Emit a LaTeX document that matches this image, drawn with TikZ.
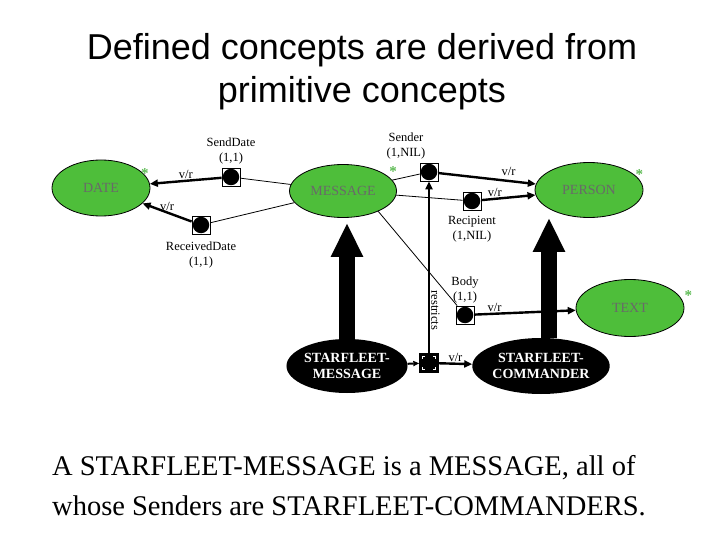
\documentclass[tikz,border=0pt]{standalone}
\usepackage{fontspec}
\setmainfont{Liberation Serif}
\newfontfamily\titlefont{Liberation Sans}
\usetikzlibrary{shapes.geometric,arrows.meta,positioning}

\definecolor{conceptgreen}{RGB}{78,190,58}
\definecolor{stargreen}{RGB}{90,185,80}
\definecolor{labelgray}{RGB}{105,105,105}

\begin{document}
\begin{tikzpicture}[x=1pt, y=-1pt,
    concept/.style={ellipse, draw, line width=0.8pt, fill=conceptgreen, text=labelgray, minimum width=108pt, minimum height=55pt, inner sep=0pt, font=\fontsize{14}{16}\selectfont},
    defined/.style={ellipse, fill=black, text=white, minimum width=108pt, minimum height=54pt, inner sep=0pt, align=center, font=\bfseries\fontsize{14}{16}\selectfont},
    slot/.style={rectangle, draw, line width=0.8pt, fill=white, minimum size=18pt, inner sep=0pt, label={[circle, fill=black, minimum size=16.5pt, inner sep=0pt]center:{}}},
    restrbox/.style={rectangle, draw, fill=black, minimum size=19pt, inner sep=0pt, label={[rectangle, draw=white, line width=1.2pt, minimum size=13pt, inner sep=0pt, dash pattern=on 5pt off 8pt, dash phase=2.5pt]center:{}}},
    role/.style={align=center, font=\fontsize{12.5}{15}\selectfont, inner sep=1pt},
    vr/.style={font=\fontsize{12.5}{14}\selectfont, inner sep=1pt},
    link/.style={line width=0.8pt},
    varrow/.style={-{Triangle[length=8pt,width=7pt]}, line width=2.4pt},
    bigarrow/.style={-{Triangle[length=34pt,width=30pt]}, line width=16pt},
    starmark/.style={text=stargreen, font=\bfseries\fontsize{15}{15}\selectfont, inner sep=0pt}
]
\useasboundingbox (0,0) rectangle (720,540);

% Title
\node[font=\titlefont\fontsize{36}{43}\selectfont, align=center, inner sep=0pt] (title) at (362,72) {Defined concepts are derived from\\primitive concepts};

% Primitive concepts
\node[concept, minimum width=98pt, minimum height=56pt] (date) at (101,188) {DATE};
\node[concept, minimum width=107pt, minimum height=53pt] (message) at (343,191) {MESSAGE};
\node[concept] (person) at (589,190) {PERSON};
\node[concept, minimum height=57pt] (text) at (630,308) {TEXT};

\node[starmark] at ([shift={(9,6)}]date.north east) {*};
\node[starmark] at ([shift={(12,0)}]message.north east) {*};
\node[starmark] at ([shift={(12,4)}]person.north east) {*};
\node[starmark] at ([shift={(20,8)}]text.north east) {*};

% Defined concepts
\node[defined] (sfmessage) at (347,366) {STARFLEET-\\MESSAGE};
\node[defined, minimum height=56pt] (sfcommander) at (541,366) {STARFLEET-\\COMMANDER};

% Roles
\node[slot] (sendDate) at (231,177) {};
\node[slot] (recvDate) at (201,225) {};
\node[slot] (sender) at (429,172) {};
\node[slot] (recipient) at (472,201) {};
\node[slot] (body) at (465,315) {};
\node[restrbox] (restr) at (429,363) {};

\node[role, above=2pt of sendDate] {SendDate\\(1,1)};
\node[role, below=6pt of recvDate] {ReceivedDate\\(1,1)};
\node[role] at (406,146) {Sender\\(1,NIL)};
\node[role, below=5pt of recipient] {Recipient\\(1,NIL)};
\node[role, above=1pt of body] {Body\\(1,1)};

% Links from MESSAGE to its roles
\draw[link] (message) -- (sendDate);
\draw[link] (message) -- (recvDate);
\draw[link] (message) -- (sender);
\draw[link] (message) -- (recipient);
\draw[link] (message.-30) -- (body);

% Value restrictions
\draw[varrow] (sendDate) -- (date) node[vr, midway, above] {v/r};
\draw[varrow] (recvDate) -- (date) node[vr, midway, above] {v/r};
\draw[varrow] (sender) -- (person) node[vr, pos=0.72, above=3pt] {v/r};
\draw[varrow] (recipient) -- (person) node[vr, pos=0.25, above] {v/r};
\draw[varrow] (body) -- (text) node[vr, pos=0.2, above] {v/r};

% Restriction of STARFLEET-MESSAGE
\draw[-{Triangle[length=6pt,width=5pt]}, line width=2pt] (sfmessage) -- (restr);
\draw[varrow] (restr) -- (sender) node[vr, pos=0.25, rotate=-90, anchor=south] {restricts};
\draw[varrow] (restr) -- (sfcommander) node[vr, midway, above] {v/r};

% Subsumption
\draw[bigarrow, shorten >=5pt] (sfmessage.north) -- (sfmessage.north |- message.south);
\coordinate (cmdtop) at ([xshift=8pt]sfcommander.north);
\draw[bigarrow] (cmdtop) -- (cmdtop |- person.south);

% Caption
\node[font=\fontsize{28.5}{40}\selectfont, align=left, anchor=north west, inner sep=0pt] (caption) at (52,455) {A STARFLEET-MESSAGE is a MESSAGE, all of\\whose Senders are STARFLEET-COMMANDERS.};

\end{tikzpicture}
\end{document}
